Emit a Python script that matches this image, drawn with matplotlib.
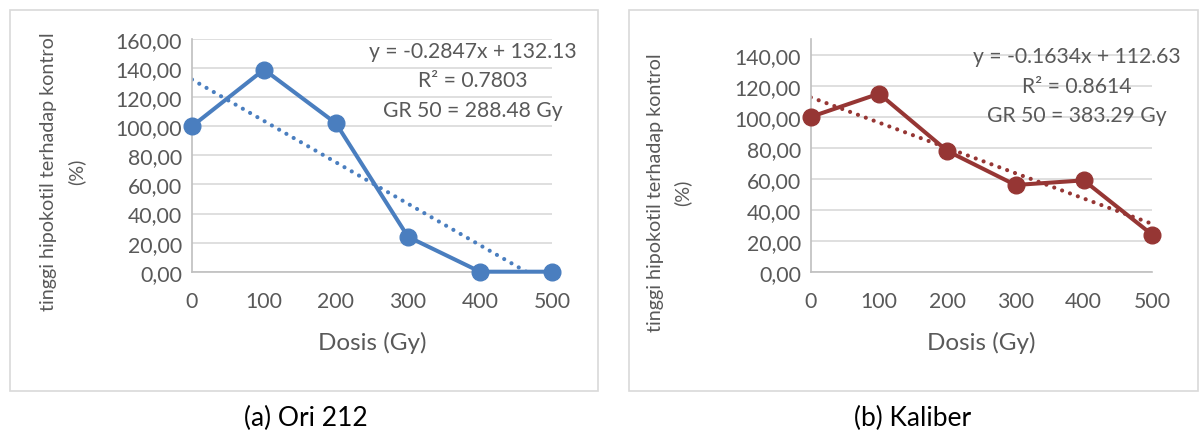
import matplotlib
matplotlib.use("Agg")
import matplotlib.pyplot as plt
from matplotlib.patches import Rectangle
import numpy as np

plt.rcParams['font.family'] = ['Lato', 'DejaVu Sans']

dosis = [0, 100, 200, 300, 400, 500]
ori212 = [100.0, 139.0, 102.0, 24.0, 0.0, 0.0]
kaliber = [100.0, 115.0, 78.0, 56.0, 59.0, 24.0]
trend_a = (-0.2847, 132.13)
trend_b = (-0.1634, 112.63)
eq_a = ["y = -0.2847x + 132.13", "R² = 0.7803", "GR 50 = 288.48 Gy"]
eq_b = ["y = -0.1634x + 112.63", "R² = 0.8614", "GR 50 = 383.29 Gy"]
yticks_a = [0, 20, 40, 60, 80, 100, 120, 140, 160]
yticks_b = [0, 20, 40, 60, 80, 100, 120, 140]
captions = ["(a) Ori 212", "(b) Kaliber"]

W, H = 1203, 435
fig = plt.figure(figsize=(W/100, H/100), dpi=100)
txt = '#595959'
grid = '#D9D9D9'

def fx(px): return px / W
def fy(py): return 1 - py / H

panels = [
    dict(ax=(192, 552, 40, 272.7), frame=(10, 598, 11, 392), data=ori212, trend=trend_a,
         eq=eq_a, eqx=473, eqy=[52, 81, 111], ylim=160, yticks=yticks_a, color='#4A7EBF',
         ylab=(49, 76, 172), xlab=(372, 343), cap=(306, 418), captxt=captions[0]),
    dict(ax=(810.8, 1152, 40, 272.7), frame=(629, 1198, 11, 392), data=kaliber, trend=trend_b,
         eq=eq_b, eqx=1077, eqy=[57, 87, 116], ylim=150.3, yticks=yticks_b, color='#963634',
         ylab=(655, 682, 193), xlab=(981, 343), cap=(913, 418), captxt=captions[1]),
]

for p in panels:
    fl, fr, ft, fb = p['frame']
    fig.patches.append(Rectangle((fx(fl), fy(fb)), fx(fr) - fx(fl), fy(ft) - fy(fb),
                                 transform=fig.transFigure, fill=False, edgecolor=grid, lw=1.2))
    x0, x1, yt, yb = p['ax']
    ax = fig.add_axes([fx(x0), fy(yb), fx(x1) - fx(x0), fy(yt) - fy(yb)])
    ax.set_xlim(0, 500)
    ax.set_ylim(0, p['ylim'])
    ax.set_yticks(p['yticks'])
    ax.set_yticklabels([f"{v:.2f}".replace('.', ',') for v in p['yticks']])
    ax.set_xticks(dosis)
    ax.set_xticklabels([str(d) for d in dosis])
    ax.grid(axis='y', color=grid, lw=1.2)
    ax.set_axisbelow(True)
    for s in ['top', 'right']:
        ax.spines[s].set_visible(False)
    for s in ['left', 'bottom']:
        ax.spines[s].set_color('#BFBFBF')
        ax.spines[s].set_linewidth(1.2)
    ax.tick_params(length=0, colors=txt, labelsize=15.3, pad=7)
    ax.tick_params(axis='x', pad=14)
    c = p['color']
    m, b = p['trend']
    xt = np.array([0, 500])
    ax.plot(xt, m * xt + b, ls=(0, (0.01, 2.0)), color=c, lw=3, dash_capstyle='round')
    ax.plot(dosis, p['data'], color=c, lw=2.9, marker='o', ms=12, clip_on=False, zorder=5)
    for line, yy in zip(p['eq'], p['eqy']):
        fig.text(fx(p['eqx']), fy(yy), line, ha='center', va='center', color=txt, fontsize=15.2)
    lx1, lx2, ly = p['ylab']
    fig.text(fx(lx1), fy(ly), "tinggi hipokotil terhadap kontrol", rotation=90,
             ha='center', va='center', color=txt, fontsize=14.2)
    fig.text(fx(lx2), fy(ly), "(%)", rotation=90, ha='center', va='center', color=txt, fontsize=14.2)
    fig.text(fx(p['xlab'][0]), fy(p['xlab'][1]), "Dosis (Gy)", ha='center', va='center',
             color=txt, fontsize=17.5)
    fig.text(fx(p['cap'][0]), fy(p['cap'][1]), p['captxt'], ha='center', va='center',
             color='black', fontsize=19)

fig.savefig('out.png', dpi=100)
